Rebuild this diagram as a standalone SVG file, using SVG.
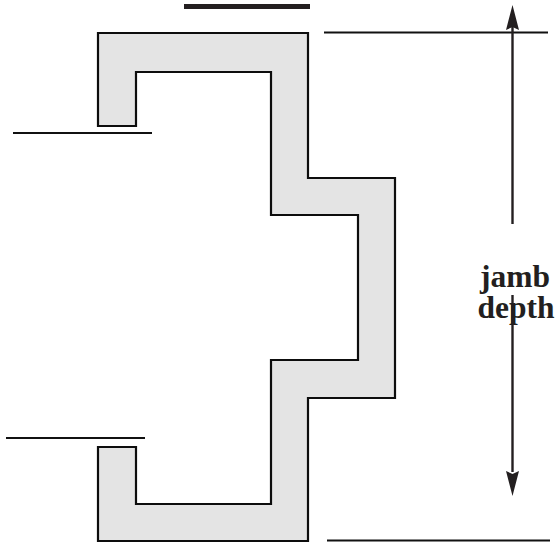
<svg xmlns="http://www.w3.org/2000/svg" width="559" height="544" viewBox="0 0 559 544">
<style>
.ln{stroke:#111;stroke-width:2.2;fill:none}
.ar{stroke:#231f20;stroke-width:2.4;fill:none}
.lb{font-family:"Liberation Serif","Times New Roman",serif;font-weight:bold;font-size:31.500px;fill:#231f20;text-anchor:middle}
</style>
<g id="jamb">
<path d="M98 33H308V178H395V398H308V541H98V447H136V504H271V360H358V215H271V72H136V126H98Z" fill="#e4e4e4" stroke="#0d0d0d" stroke-width="2.200"/>
</g>
<g id="top-bar"><rect x="184" y="4" width="126" height="5" fill="#231f20"/></g>
<g id="connectors">
<path class="ln" d="M324 32.500H548"/>
<path class="ln" d="M13 133H152"/>
<path class="ln" d="M6 438H145"/>
<path class="ln" d="M327 540.500H550"/>
<path class="ar" d="M512.500 24V224"/>
<path class="ar" d="M512.500 295V472"/>
<path d="M512.500 5L519 30L512.500 27L506 30Z" fill="#231f20"/>
<path d="M512.500 496L519 471L512.500 474L506 471Z" fill="#231f20"/>
</g>
<g id="label">
<text class="lb" x="515" y="287">jamb</text>
<text class="lb" x="516" y="318">depth</text>
</g>
</svg>
